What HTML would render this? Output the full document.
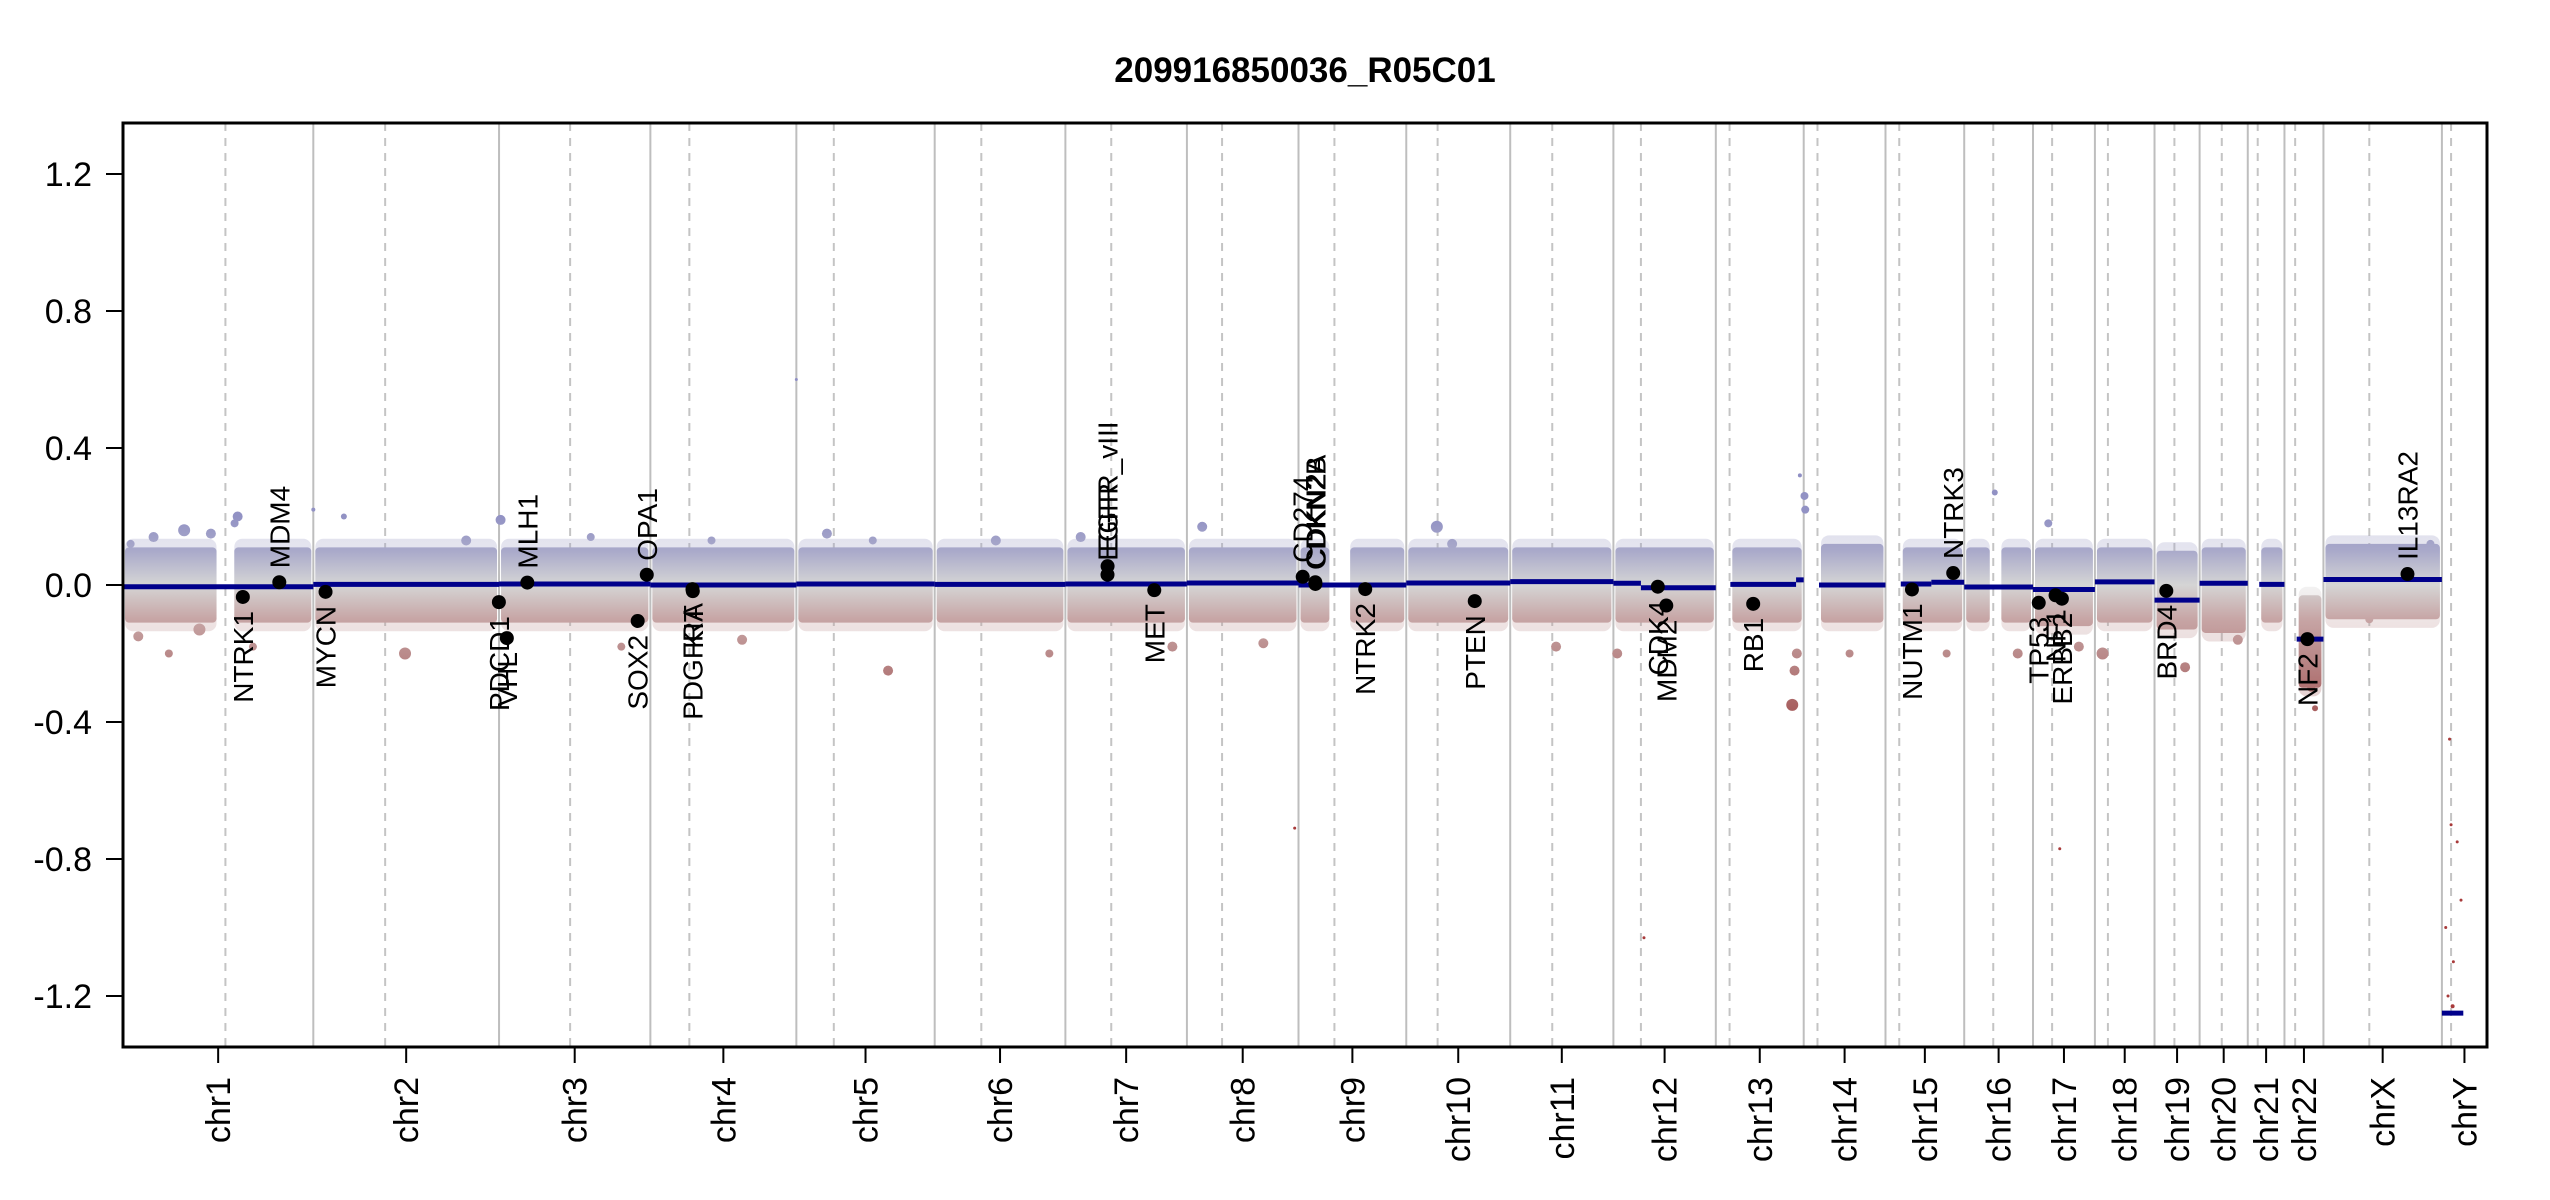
<!DOCTYPE html>
<html><head><meta charset="utf-8"><title>209916850036_R05C01</title>
<style>html,body{margin:0;padding:0;background:#fff}svg{display:block}text{font-family:"Liberation Sans",Arial,sans-serif}</style>
</head><body>
<svg id="chart" width="2550" height="1200" viewBox="0 0 2550 1200" xmlns="http://www.w3.org/2000/svg">
<defs>
<linearGradient id="cnGrad" gradientUnits="userSpaceOnUse" x1="0" y1="516.5" x2="0" y2="722">
<stop offset="0" stop-color="#9292c4"/>
<stop offset="0.167" stop-color="#a9a9ca"/>
<stop offset="0.333" stop-color="#d5d5d5"/>
<stop offset="0.5" stop-color="#c7a5a5"/>
<stop offset="0.667" stop-color="#ba8b8b"/>
<stop offset="1" stop-color="#a45656"/>
</linearGradient>
</defs>
<text x="1305" y="82" font-size="35" font-weight="bold" text-anchor="middle">209916850036_R05C01</text>
<g id="grid"></g>
<g id="cloud"></g>
<g id="outliers"></g>
<g id="segs"></g>
<g id="genes"></g>
<g id="axes"></g>
<rect x="123" y="123" width="2364" height="924" fill="none" stroke="#000" stroke-width="3"/>
</svg>
<script>
const chromNames = ["chr1","chr2","chr3","chr4","chr5","chr6","chr7","chr8","chr9","chr10","chr11","chr12","chr13","chr14","chr15","chr16","chr17","chr18","chr19","chr20","chr21","chr22","chrX","chrY"];
const chromLen = [249,243,198,191,181,171,159,146,141,136,135,134,115,107,103,90,81,78,59,63,48,51,155,59];
const centroMb = [134,94,93,51,49,61,60,46,47,41,55,36,18,18,18,38,25,17,26,29,13,14,60,12];
const yTicks = [-1.2,-0.8,-0.4,0.0,0.4,0.8,1.2];
const yTickLabels = ["-1.2","-0.8","-0.4","0.0","0.4","0.8","1.2"];
const cloudChrom = [0,0,1,2,3,4,5,6,7,8,8,9,10,11,12,13,14,15,15,16,17,18,19,20,21,22];
const cloudStart = [0,143,0,0,0,0,0,0,0,0,65,0,0,0,19,20,20,0,46,0,0,0,0,15,16,0];
const cloudEnd   = [125,249,243,198,191,181,171,159,146,43,141,136,135,134,115,107,103,36,90,81,78,59,63,48,51,155];
const cloudHigh  = [0.11,0.11,0.11,0.11,0.11,0.11,0.11,0.11,0.11,0.11,0.11,0.11,0.11,0.11,0.11,0.12,0.11,0.11,0.11,0.11,0.11,0.1,0.11,0.11,-0.03,0.12];
const cloudLow   = [-0.11,-0.11,-0.11,-0.11,-0.11,-0.11,-0.11,-0.11,-0.11,-0.11,-0.11,-0.11,-0.11,-0.11,-0.11,-0.11,-0.11,-0.11,-0.11,-0.12,-0.11,-0.13,-0.14,-0.11,-0.3,-0.1];
const segChrom = [0,1,2,3,4,5,6,7,8,9,10,11,11,12,12,13,14,14,15,16,17,18,19,20,21,22,23];
const segStart = [0,0,0,0,0,0,0,0,0,0,0,0,36,19,105,20,20,60,0,0,0,0,0,15,16,0,0];
const segEnd   = [249,243,198,191,181,171,159,146,141,136,135,36,134,105,115,107,60,103,90,81,78,59,63,48,51,155,28];
const segValue = [-0.005,0.002,0.003,0.0,0.003,0.002,0.003,0.006,0.0,0.006,0.01,0.005,-0.008,0.002,0.015,0.0,0.003,0.008,-0.006,-0.013,0.009,-0.044,0.005,0.002,-0.158,0.016,-1.25];
const outChrom = [0,0,0,0,0,0,0,0,0,0,1,1,1,1,2,2,2,3,3,4,4,4,4,5,5,6,6,7,7,7,9,9,10,11,11,12,12,12,12,13,13,13,14,15,15,16,16,16,17,18,19,21,21,22,22,23,23,23,23,23,23,23,23];
const outMb    = [10,40,80,115,150,146,20,60,100,170,0,40,120,200,2,120,160,80,120,0,40,120,100,80,150,20,140,20,100,141,40,60,60,40,5,100,103,106,110,1,2,60,80,40,70,35,20,60,10,40,50,40,35,60,140,10,12,20,25,5,15,8,14];
const outValue = [0.12,0.14,0.16,0.15,0.2,0.18,-0.15,-0.2,-0.13,-0.18,0.22,0.2,-0.2,0.13,0.19,0.14,-0.18,0.13,-0.16,0.6,0.15,-0.25,0.13,0.13,-0.2,0.14,-0.18,0.17,-0.17,-0.71,0.17,0.12,-0.18,-1.03,-0.2,-0.35,-0.25,-0.2,0.32,0.26,0.22,-0.2,-0.2,0.27,-0.2,-0.77,0.18,-0.18,-0.2,-0.24,-0.16,-0.36,-0.3,-0.1,0.12,-0.45,-0.7,-0.75,-0.92,-1.0,-1.1,-1.2,-1.23];
const outSize  = [4,5,6,5,5,4,5,4,6,4,2,3,6,5,5,4,4,4,5,1.5,5,5,4,5,4,5,5,5,5,1.5,6,5,5,1.5,5,6,5,5,2,4,4,4,4,3,5,1.5,4,5,6,5,5,3,4,4,4,1.5,1.5,1.5,1.5,1.5,1.5,1.5,2];
const geneNames = ["NTRK1","MDM4","MYCN","PDCD1","VHL","MLH1","SOX2","OPA1","PDGFRA","KIT","EGFR","EGFR_vIII","MET","CD274","CDKN2A","CDKN2B","NTRK2","PTEN","CDK4","MDM2","RB1","NUTM1","NTRK3","TP53","NF1","ERBB2","BRD4","NF2","IL13RA2"];
const geneChrom = [0,0,1,1,2,2,2,2,3,3,6,6,6,8,8,8,8,9,11,11,12,14,14,16,16,16,18,21,22];
const geneMb    = [156.8,204.5,16,242.8,10.2,37,181.4,193.3,55.1,55.5,55.1,55.2,116.3,5.5,22.0,22.1,87.3,89.6,58.1,69.2,48.9,34.6,88.6,7.5,29.5,37.8,15.4,30,110];
const geneValue = [-0.035,0.008,-0.02,-0.05,-0.155,0.007,-0.105,0.03,-0.012,-0.018,0.03,0.055,-0.015,0.024,0.008,0.003,-0.012,-0.047,-0.005,-0.06,-0.055,-0.013,0.035,-0.052,-0.03,-0.04,-0.017,-0.158,0.032];

const NS = "http://www.w3.org/2000/svg";
const PL = 123, PR = 2487, PT = 123, PB = 1047;
const total = chromLen.reduce((a,b)=>a+b,0);
const cum = []; { let c = 0; for (const l of chromLen) { cum.push(c); c += l; } }
function xPos(ci, mb) { return PL + (cum[ci] + mb) * (PR - PL) / total; }
function yPos(v) { return 585 - v * 342.5; }
function mk(tag, attrs, parent) { const e = document.createElementNS(NS, tag); for (const k in attrs) e.setAttribute(k, attrs[k]); parent.appendChild(e); return e; }

const grid = document.getElementById('grid');
for (let i = 0; i < chromNames.length; i++) {
  if (i > 0) {
    const l = mk('line', {x1: xPos(i,0), x2: xPos(i,0), y1: PT, y2: PB, stroke: '#bebebe', 'stroke-width': 2}, grid);
    
    
  }
  const d = mk('line', {x1: xPos(i,centroMb[i]), x2: xPos(i,centroMb[i]), y1: PT, y2: PB, stroke: '#c4c4c4', 'stroke-width': 2, 'stroke-dasharray': '8,7'}, grid);
  
  
}

const cloud = document.getElementById('cloud');
for (let i = 0; i < cloudChrom.length; i++) {
  const x1 = xPos(cloudChrom[i], cloudStart[i]), x2 = xPos(cloudChrom[i], cloudEnd[i]);
  const outer = mk('rect', {x: x1 + 2, y: yPos(cloudHigh[i] + 0.025), width: x2 - x1 - 4, height: yPos(cloudLow[i] - 0.025) - yPos(cloudHigh[i] + 0.025), fill: 'url(#cnGrad)', opacity: 0.3, rx: 8}, cloud);
  
  
  const r = mk('rect', {x: x1 + 2, y: yPos(cloudHigh[i]), width: x2 - x1 - 4, height: yPos(cloudLow[i]) - yPos(cloudHigh[i]), fill: 'url(#cnGrad)', rx: 4}, cloud);
  
  
}

const outs = document.getElementById('outliers');
for (let i = 0; i < outChrom.length; i++) {
  const far = outValue[i] < -0.4;
  const c = mk('circle', {cx: xPos(outChrom[i], outMb[i]), cy: yPos(outValue[i]), r: outSize[i], fill: far ? '#a83a3a' : (outValue[i] > 0.3 ? '#8f8fc4' : 'url(#cnGrad)')}, outs);
  
  
}

const segs = document.getElementById('segs');
for (let i = 0; i < segChrom.length; i++) {
  const s = mk('line', {x1: xPos(segChrom[i], segStart[i]), x2: xPos(segChrom[i], segEnd[i]), y1: yPos(segValue[i]), y2: yPos(segValue[i]), stroke: '#00008b', 'stroke-width': 5}, segs);
  
  
}

const genes = document.getElementById('genes');
for (let i = 0; i < geneNames.length; i++) {
  const gx = xPos(geneChrom[i], geneMb[i]), gy = yPos(geneValue[i]);
  const c = mk('circle', {cx: gx, cy: gy, r: 7, fill: '#000'}, genes);
  
  
  const up = geneValue[i] > 0;
  const ty = up ? gy - 14 : gy + 14;
  const t = mk('text', {transform: 'translate(' + (gx + 10) + ',' + ty + ') rotate(-90)', 'font-size': 28, 'text-anchor': up ? 'start' : 'end'}, genes);
  t.textContent = geneNames[i];
  
  
}

const axes = document.getElementById('axes');
for (let i = 0; i < yTicks.length; i++) {
  const y = yPos(yTicks[i]);
  const tk = mk('line', {x1: 106, x2: PL, y1: y, y2: y, stroke: '#000', 'stroke-width': 2}, axes);
  
  
  const t = mk('text', {x: 92, y: y + 12, 'font-size': 34, 'text-anchor': 'end'}, axes);
  t.textContent = yTickLabels[i];
  
  
}
for (let i = 0; i < chromNames.length; i++) {
  const x = xPos(i, chromLen[i] / 2);
  const tk = mk('line', {x1: x, x2: x, y1: PB, y2: PB + 16, stroke: '#000', 'stroke-width': 2}, axes);
  
  
  const t = mk('text', {transform: 'translate(' + (x + 12) + ',' + (PB + 30) + ') rotate(-90)', 'font-size': 34, 'text-anchor': 'end'}, axes);
  t.textContent = chromNames[i];
  
  
}
</script>
</body></html>
